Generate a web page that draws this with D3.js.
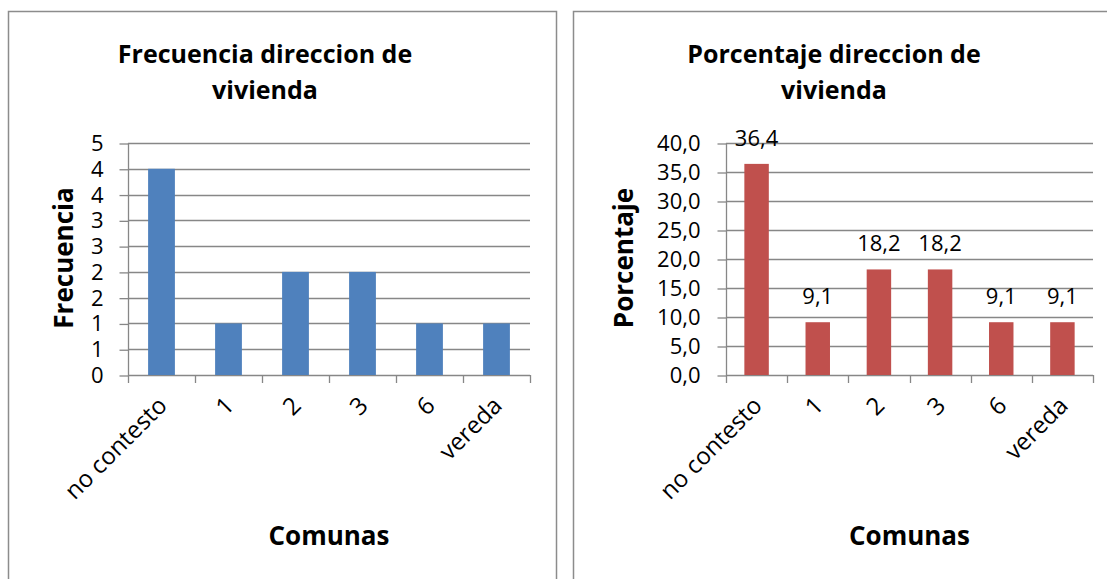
<!DOCTYPE html>
<html>
<head>
<meta charset="utf-8">
<script src="https://cdn.jsdelivr.net/npm/d3@7"></script>
<style>
  body { margin: 0; background: #fff; }
  svg { display: block; }
  text { font-family: "Open Sans", sans-serif; fill: #000; }
</style>
</head>
<body>
<svg id="chart" width="1107" height="579"></svg>
<script>
// Housing address by commune
const categories = ["no contesto", "1", "2", "3", "6", "vereda"];
const frequency = [4, 1, 2, 2, 1, 1];
const percentage = [36.4, 9.1, 18.2, 18.2, 9.1, 9.1];
const percentageLabels = ["36,4", "9,1", "18,2", "18,2", "9,1", "9,1"];

const freqTicks = [0, 0.5, 1, 1.5, 2, 2.5, 3, 3.5, 4, 4.5];
const freqTickLabels = ["0", "1", "1", "2", "2", "3", "3", "4", "4", "5"];
const pctTicks = [0, 5, 10, 15, 20, 25, 30, 35, 40];
const pctTickLabels = ["0,0", "5,0", "10,0", "15,0", "20,0", "25,0", "30,0", "35,0", "40,0"];

const svg = d3.select("#chart");
const gridColor = "#878787";

function drawPanel(opt) {
  const g = svg.append("g");

  // chart frame
  g.append("rect")
    .attr("x", opt.frame[0] + 0.5).attr("y", opt.frame[1] + 0.5)
    .attr("width", opt.frame[2]).attr("height", opt.frame[3])
    .attr("fill", "#fff").attr("stroke", "#8c8c8c").attr("stroke-width", 1.5);

  const x = d3.scaleBand().domain(categories).range([opt.left, opt.right]).padding(0);
  const y = d3.scaleLinear().domain(opt.domain).range([opt.bottom, opt.top]);

  // horizontal gridlines
  g.append("g").selectAll("line").data(opt.ticks).join("line")
    .attr("x1", opt.left).attr("x2", opt.right)
    .attr("y1", d => Math.round(y(d)) + 0.5).attr("y2", d => Math.round(y(d)) + 0.5)
    .attr("stroke", gridColor).attr("stroke-width", 1.3);

  // value axis with tick labels
  const yAxis = d3.axisLeft(y)
    .tickValues(opt.ticks)
    .tickFormat((d, i) => opt.tickLabels[i])
    .tickSize(9)
    .tickPadding(opt.tickPad)
    .tickSizeOuter(0);
  const ya = g.append("g").attr("transform", `translate(${opt.left + 0.5},0.5)`).call(yAxis);
  ya.select(".domain").remove();
  ya.selectAll(".tick line").attr("stroke", gridColor).attr("stroke-width", 1.3);
  ya.selectAll(".tick text")
    .attr("font-size", opt.tickFont).attr("font-family", "Open Sans").attr("fill", "#000");

  // vertical axis line
  g.append("line")
    .attr("x1", opt.left + 0.5).attr("x2", opt.left + 0.5)
    .attr("y1", opt.top).attr("y2", opt.bottom + 8)
    .attr("stroke", gridColor).attr("stroke-width", 1.3);

  // category boundary ticks
  const bounds = categories.map(c => x(c)).concat([x.range()[1]]);
  g.append("g").selectAll("line").data(bounds.slice(1)).join("line")
    .attr("x1", d => Math.round(d) + 0.5).attr("x2", d => Math.round(d) + 0.5)
    .attr("y1", opt.bottom).attr("y2", opt.bottom + 8)
    .attr("stroke", gridColor).attr("stroke-width", 1.3);

  // bars
  const bw = x.bandwidth() * 0.4;
  g.append("g").selectAll("rect").data(opt.values).join("rect")
    .attr("x", (d, i) => x(categories[i]) + (x.bandwidth() - bw) / 2)
    .attr("y", d => y(d))
    .attr("width", bw)
    .attr("height", d => y(0) - y(d))
    .attr("fill", opt.color);

  // data labels
  if (opt.valueLabels) {
    g.append("g").selectAll("text").data(opt.values).join("text")
      .attr("x", (d, i) => x(categories[i]) + x.bandwidth() / 2)
      .attr("y", d => y(d) - 18)
      .attr("text-anchor", "middle")
      .attr("font-size", 22)
      .text((d, i) => opt.valueLabels[i]);
  }

  // rotated category labels
  g.append("g").selectAll("text").data(categories).join("text")
    .attr("transform", d => `translate(${x(d) + x.bandwidth() / 2 + 7},${opt.bottom + 32}) rotate(-45)`)
    .attr("text-anchor", "end")
    .attr("font-size", 24)
    .text(d => d);

  // axis titles
  g.append("text")
    .attr("transform", `translate(${opt.yTitleX},258) rotate(-90)`)
    .attr("text-anchor", "middle")
    .attr("font-size", 26).attr("font-weight", 700)
    .text(opt.yTitle);

  g.append("text")
    .attr("x", (opt.left + opt.right) / 2).attr("y", 545)
    .attr("text-anchor", "middle")
    .attr("font-size", 26).attr("font-weight", 700)
    .text("Comunas");

  // chart title, two lines
  opt.title.forEach((line, i) => {
    g.append("text")
      .attr("x", opt.titleX).attr("y", 63 + i * 36)
      .attr("text-anchor", "middle")
      .attr("font-size", 25).attr("font-weight", 700)
      .text(line);
  });
}

drawPanel({
  frame: [8, 11, 548, 620],
  left: 128, right: 530, top: 143, bottom: 375,
  domain: [0, 4.5], ticks: freqTicks, tickLabels: freqTickLabels,
  tickPad: 16, tickFont: 22,
  values: frequency, color: "#4F81BD",
  yTitle: "Frecuencia", yTitleX: 73,
  title: ["Frecuencia direccion de", "vivienda"], titleX: 265
});

drawPanel({
  frame: [573, 11, 620, 620],
  left: 726, right: 1093, top: 143, bottom: 375,
  domain: [0, 40], ticks: pctTicks, tickLabels: pctTickLabels,
  tickPad: 17, tickFont: 22,
  values: percentage, valueLabels: percentageLabels, color: "#C0504D",
  yTitle: "Porcentaje", yTitleX: 633,
  title: ["Porcentaje direccion de", "vivienda"], titleX: 834
});
</script>
</body>
</html>
